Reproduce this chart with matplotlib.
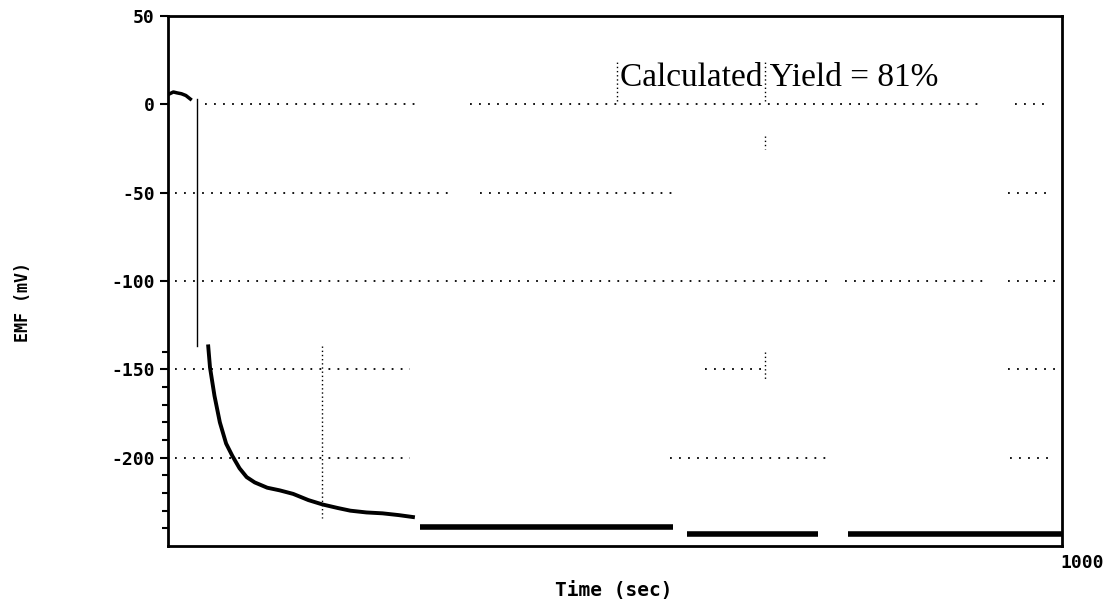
import matplotlib
matplotlib.use("Agg")
import matplotlib.pyplot as plt

# ── Data ─────────────────────────────────────────────────────────────────────
# early spike near zero
blob_t = [2, 6, 10, 15, 20, 25]
blob_v = [6, 7, 6.5, 6, 5, 3]

# vertical jump
jump_t = [32, 32]
jump_v = [3, -137]

# decay curve
decay_t = [45, 47, 52, 58, 65, 72, 80, 88, 97, 111, 125, 140, 157, 173,
           190, 204, 222, 240, 258, 274]
decay_v = [-137, -149, -165, -180, -192, -199, -206, -211, -214, -217,
           -218.5, -220.5, -224, -226.5, -228.5, -230, -231, -231.5, -232.5,
           -233.6]

# later flat segments (thick)
flat_t = [[282, 565], [580, 727], [761, 1000]]
flat_v = [[-239, -239], [-243, -243], [-243, -243]]

# broken grid pieces (value, [(t0, t1), ...])
hgrid = {
    0:    [(41, 282), (338, 908), (947, 987)],
    -50:  [(8, 315), (349, 567), (940, 987)],
    -100: [(8, 740), (757, 914), (940, 992)],
    -150: [(8, 271), (601, 668), (940, 992)],
    -200: [(8, 271), (562, 740), (942, 992)],
}
vgrid = [(172, -137, -234), (668, -18, -25), (668, -140, -156),
         (668, 2, 24), (502, 2, 24)]

yticks = [50, 0, -50, -100, -150, -200]
ylabels = ["50", "0", "-50", "-100", "-150", "-200"]
xmax_label = "1000"

# ── Plot ─────────────────────────────────────────────────────────────────────
fig = plt.figure(figsize=(11.06, 6.04), dpi=100)
ax = fig.add_axes([0.1519, 0.096, 0.8083, 0.8775])
ax.set_xlim(0, 1000)
ax.set_ylim(-250, 50)

for val, pieces in hgrid.items():
    for t0, t1 in pieces:
        ax.plot([t0, t1], [val, val], color="black", lw=1.3,
                linestyle=(0, (1, 4)))
for t, v0, v1 in vgrid:
    ax.plot([t, t], [v0, v1], color="black", lw=1.0, linestyle=(0, (1, 2)))

ax.plot(blob_t, blob_v, color="black", lw=2.5)
ax.plot(jump_t, jump_v, color="black", lw=1.0)
ax.plot(decay_t, decay_v, color="black", lw=2.8)
for t, v in zip(flat_t, flat_v):
    ax.plot(t, v, color="black", lw=4, solid_capstyle="butt")

for s in ax.spines.values():
    s.set_linewidth(2)

ax.set_yticks(yticks)
ax.set_yticklabels(ylabels, fontfamily="DejaVu Sans Mono",
                   fontweight="bold", fontsize=13)
ax.set_yticks(range(-240, -130, 10), minor=True)
ax.tick_params(axis="y", which="major", length=6, width=1.5, direction="out")
ax.tick_params(axis="y", which="minor", length=4, width=1.5, direction="out")
ax.set_xticks([])

# end label of the time axis sits right of the frame in the scan
fig.text(0.978, 0.068, xmax_label, ha="center", va="center",
         fontfamily="DejaVu Sans Mono", fontweight="bold", fontsize=13)
fig.text(0.021, 0.50, "EMF (mV)", rotation=90, ha="center", va="center",
         fontfamily="DejaVu Sans Mono", fontweight="bold", fontsize=12)
fig.text(0.555, 0.023, "Time (sec)", ha="center", va="center",
         fontfamily="DejaVu Sans Mono", fontweight="bold", fontsize=14)

ax.text(506, 15, "Calculated Yield = 81%", fontfamily="Liberation Serif",
        fontsize=24, ha="left", va="center")

fig.savefig("out.png", dpi=100)
